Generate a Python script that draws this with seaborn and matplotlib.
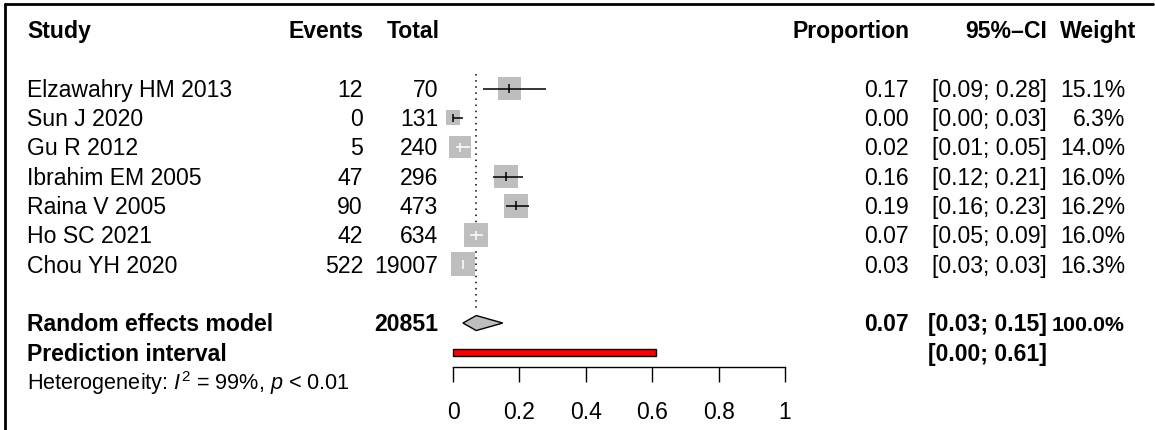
import numpy as np
import pandas as pd
import matplotlib
matplotlib.use("Agg")
import matplotlib.pyplot as plt
from matplotlib.lines import Line2D
from matplotlib.transforms import blended_transform_factory
import seaborn as sns

# ---- data -------------------------------------------------------------
studies = ["Elzawahry HM 2013", "Sun J 2020", "Gu R 2012", "Ibrahim EM 2005",
           "Raina V 2005", "Ho SC 2021", "Chou YH 2020"]
events = [12, 0, 5, 47, 90, 42, 522]
totals = [70, 131, 240, 296, 473, 634, 19007]
props = [0.17, 0.00, 0.02, 0.16, 0.19, 0.07, 0.03]
ci_low = [0.09, 0.00, 0.01, 0.12, 0.16, 0.05, 0.03]
ci_high = [0.28, 0.03, 0.05, 0.21, 0.23, 0.09, 0.03]
weights = [15.1, 6.3, 14.0, 16.0, 16.2, 16.0, 16.3]

re_total = 20851
re_weight = 100.0
re_est, re_low, re_high = 0.07, 0.03, 0.15
pi_low, pi_high = 0.00, 0.61
het_text = r"Heterogeneity: $I^2$ = 99%, $p$ < 0.01"

x_ticks = [0, 0.2, 0.4, 0.6, 0.8, 1]
x_tick_labels = ["0", "0.2", "0.4", "0.6", "0.8", "1"]

# ---- style ------------------------------------------------------------
sns.set_style("white")
plt.rcParams["font.family"] = ["Liberation Sans", "DejaVu Sans"]
plt.rcParams["mathtext.fontset"] = "custom"
plt.rcParams["mathtext.rm"] = "Liberation Sans"
plt.rcParams["mathtext.it"] = "Liberation Sans:italic"

FS = 16.6
FS_TOTW = 15.4
FS_HET = 15.6
W, H = 1155, 430

fig = plt.figure(figsize=(W / 100, H / 100), dpi=100)
fig.patch.set_facecolor("white")

# forest panel: x is the proportion scale, y is the row number
ax = fig.add_axes([453 / W, 0, 332 / W, 1])
ax.set_xlim(0, 1)
ax.set_ylim(13.65, -1.024)
ax.set_facecolor("none")

header_row = 0
study_rows = np.arange(2, 2 + len(studies))
re_row = study_rows[-1] + 2
pi_row = re_row + 1
het_row = pi_row + 1

df = pd.DataFrame({"study": studies, "prop": props, "lo": ci_low, "hi": ci_high,
                   "weight": weights, "row": study_rows})

# square side (in px) grows with sqrt(weight); area proportional to weight
side_k = 5.94
px_per_unit = W * (332 / W) / 1.0
area_k = (side_k * 0.72) ** 2
wmax = max(weights)
sns.scatterplot(data=df, x="prop", y="row", size="weight",
                sizes=(0, area_k * wmax), size_norm=(0, wmax),
                marker="s", color="#BEBEBE", linewidth=0, legend=False,
                ax=ax, clip_on=False, zorder=2)

# confidence intervals: white when fully hidden inside the square
half_side = side_k * np.sqrt(df["weight"]) / 2 / px_per_unit
inside = (df["prop"] - half_side <= df["lo"]) & (df["prop"] + half_side >= df["hi"])
line_cols = np.where(inside, "white", "black")
ax.hlines(df["row"], df["lo"], df["hi"], colors=line_cols, lw=1.1,
          clip_on=False, zorder=3)
ax.vlines(df["prop"], df["row"] - 0.15, df["row"] + 0.15, colors=line_cols,
          lw=1.1, clip_on=False, zorder=3)

# reference line at the pooled estimate
ax.vlines(re_est, study_rows[0] - 0.5, re_row - 0.5, colors="black",
          linestyles=(0, (1, 3)), lw=1.1, zorder=1)

# pooled diamond
dh = 0.256
ax.fill([re_low, re_est, re_high, re_est],
        [re_row, re_row - dh, re_row, re_row + dh],
        facecolor="#BEBEBE", edgecolor="black", lw=1, clip_on=False, zorder=3)

# prediction interval bar
ax.barh([pi_row], [pi_high - pi_low], left=[pi_low], height=0.22,
        color="#FF0000", edgecolor="black", lw=1, clip_on=False, zorder=3)

# x axis drawn below the prediction interval
for side in ["top", "left", "right"]:
    ax.spines[side].set_visible(False)
ax.spines["bottom"].set_position(("data", pi_row + 0.5))
ax.spines["bottom"].set_bounds(0, 1)
ax.spines["bottom"].set_color("black")
ax.spines["bottom"].set_linewidth(1)
ax.set_xticks(x_ticks)
ax.set_xticklabels(x_tick_labels)
ax.tick_params(axis="x", direction="out", length=10.8, width=1, pad=13.5,
               labelsize=FS, colors="black", bottom=True)
ax.set_yticks([])
ax.set_xlabel("")
ax.set_ylabel("")

# ---- text columns -----------------------------------------------------
tr = blended_transform_factory(fig.transFigure, ax.transData)
BASE = 0.28


def put(x_px, row, s, ha="left", bold=False, size=FS):
    ax.text(x_px / W, row + BASE, s, transform=tr, ha=ha, va="baseline",
            fontsize=size, fontweight="bold" if bold else "normal",
            color="black")


col_study, col_events, col_total = 27, 363, 438
col_prop, col_ci, col_w = 909, 1047, 1125

put(col_study, header_row, "Study", bold=True)
put(col_events, header_row, "Events", ha="right", bold=True)
put(col_total + 2, header_row, "Total", ha="right", bold=True)
put(col_prop + 1, header_row, "Proportion", ha="right", bold=True)
put(col_ci, header_row, "95%\u2013CI", ha="right", bold=True)
put(col_w + 11, header_row, "Weight", ha="right", bold=True)

for r, name, e, n, p, lo, hi, w in zip(study_rows, studies, events, totals,
                                        props, ci_low, ci_high, weights):
    put(col_study, r, name)
    put(col_events, r, f"{e}", ha="right")
    put(col_total, r, f"{n}", ha="right")
    put(col_prop, r, f"{p:.2f}", ha="right")
    put(col_ci, r, f"[{lo:.2f}; {hi:.2f}]", ha="right")
    put(col_w, r, f"{w:.1f}%", ha="right")

put(col_study, re_row, "Random effects model", bold=True)
put(col_total, re_row, f"{re_total}", ha="right", bold=True)
put(col_prop, re_row, f"{re_est:.2f}", ha="right", bold=True)
put(col_ci, re_row, f"[{re_low:.2f}; {re_high:.2f}]", ha="right", bold=True)
put(col_w, re_row, f"{re_weight:.1f}%", ha="right", bold=True, size=FS_TOTW)

put(col_study, pi_row, "Prediction interval", bold=True)
put(col_ci, pi_row, f"[{pi_low:.2f}; {pi_high:.2f}]", ha="right", bold=True)

put(col_study, het_row, het_text, size=FS_HET)

# frame lines along the top and left edges
fig.add_artist(Line2D([5 / W, 1153 / W], [1 - 4 / H, 1 - 4 / H],
                      color="black", lw=2, transform=fig.transFigure))
fig.add_artist(Line2D([5 / W, 5 / W], [0, 1 - 4 / H],
                      color="black", lw=2, transform=fig.transFigure))

fig.savefig("out.png", dpi=100, facecolor="white")
